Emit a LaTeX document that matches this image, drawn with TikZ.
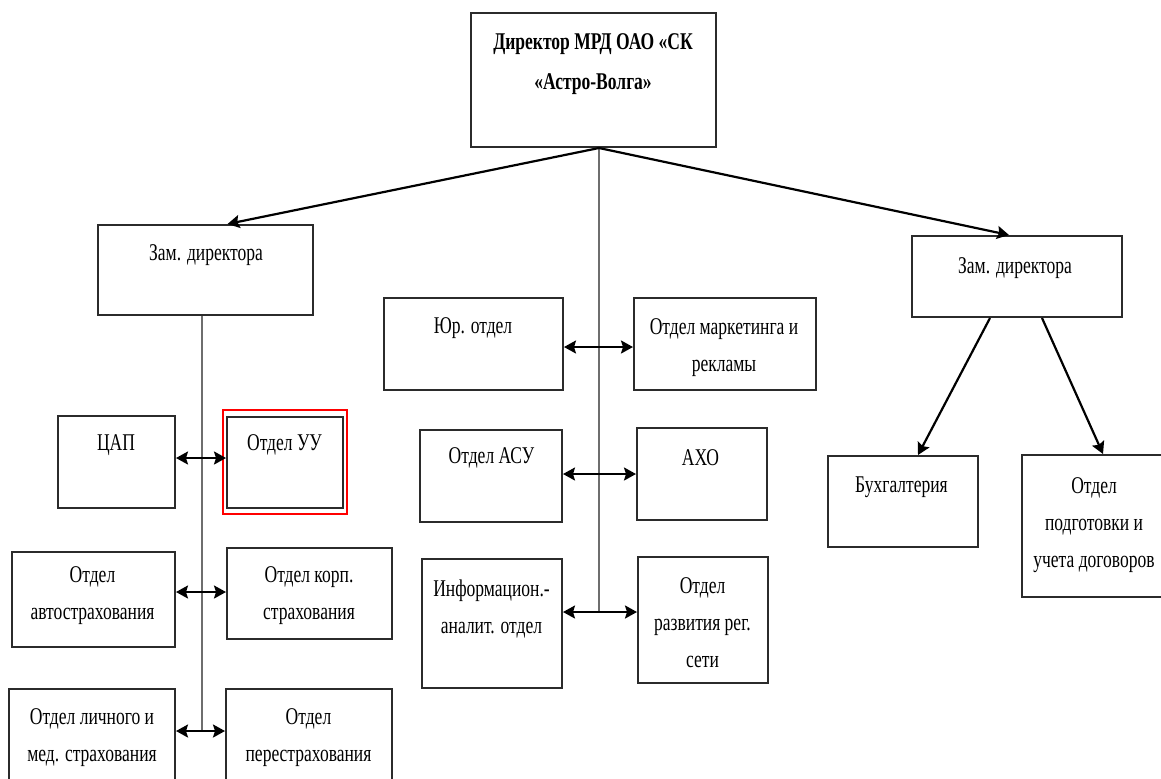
\documentclass[tikz,border=0pt]{standalone}
\usepackage{fontspec}
\setmainfont{Liberation Serif}[FakeStretch=0.73]
\usetikzlibrary{arrows.meta}
\definecolor{boxc}{HTML}{2B2B2B}
\definecolor{trunkc}{HTML}{6E6E6E}

\begin{document}
\begin{tikzpicture}[x=0.5pt, y=-0.5pt, >={Stealth[length=6pt, width=6.5pt, inset=1pt]},
    dept/.style={draw=boxc, line width=1pt, inner sep=0pt},
    txt/.style={inner sep=0pt, align=center, font=\fontsize{12}{18.5}\selectfont},
    link/.style={draw=black, line width=1.1pt},
    trunk/.style={draw=trunkc, line width=1pt}]
  \useasboundingbox (0,0) rectangle (1161,778);

  % boxes
  \node[dept, minimum width=122.5pt, minimum height=67pt] (dir) at (593.5,80) {};
  \node[dept, minimum width=107.5pt, minimum height=45pt] (lz) at (205.5,270) {};
  \node[dept, minimum width=105pt, minimum height=40.5pt] (rz) at (1017,276.5) {};
  \node[dept, minimum width=58.5pt, minimum height=46pt] (cap) at (116.5,462) {};
  \node[dept, minimum width=58pt, minimum height=45.5pt] (uu) at (285,462.5) {};
  \node[draw=red, line width=0.6pt, inner sep=0pt, minimum width=62pt, minimum height=52pt] (uusel) at (285,462) {};
  \node[dept, minimum width=81.5pt, minimum height=47.5pt] (avto) at (93.5,599.5) {};
  \node[dept, minimum width=82.5pt, minimum height=45.5pt] (korp) at (309.5,593.5) {};
  \node[dept, minimum width=83pt, minimum height=70.5pt] (lich) at (92,759.5) {};
  \node[dept, minimum width=83pt, minimum height=70.5pt] (pere) at (309,759.5) {};
  \node[dept, minimum width=89.5pt, minimum height=46pt] (yur) at (473.5,344) {};
  \node[dept, minimum width=91pt, minimum height=46pt] (mark) at (725,344) {};
  \node[dept, minimum width=71pt, minimum height=46pt] (asu) at (491,476) {};
  \node[dept, minimum width=65pt, minimum height=46pt] (axo) at (702,474) {};
  \node[dept, minimum width=70pt, minimum height=64.5pt] (inf) at (492,623.5) {};
  \node[dept, minimum width=65pt, minimum height=63pt] (raz) at (703,620) {};
  \node[dept, minimum width=75pt, minimum height=45.5pt] (bux) at (903,501.5) {};
  \node[dept, minimum width=72pt, minimum height=71pt] (dog) at (1094,526) {};

  % texts
  \node[txt, font=\fontsize{12}{20}\selectfont\bfseries] (dir-t) at (593,64) {Директор МРД ОАО «СК\\«Астро-Волга»};
  \node[txt] (lz-t) at (206,255) {Зам. директора};
  \node[txt] (rz-t) at (1015,268) {Зам. директора};
  \node[txt] (cap-t) at (116,445) {ЦАП};
  \node[txt] (uu-t) at (284.5,445) {Отдел УУ};
  \node[txt] (avto-t) at (92.5,595.5) {Отдел\\автострахования};
  \node[txt] (korp-t) at (309,596) {Отдел корп.\\страхования};
  \node[txt] (lich-t) at (92,738) {Отдел личного и\\мед. страхования};
  \node[txt] (pere-t) at (308.5,738) {Отдел\\перестрахования};
  \node[txt] (yur-t) at (473,328) {Юр. отдел};
  \node[txt] (mark-t) at (724,347.5) {Отдел маркетинга и\\рекламы};
  \node[txt] (asu-t) at (491.5,458) {Отдел АСУ};
  \node[txt] (axo-t) at (700.5,458) {АХО};
  \node[txt] (inf-t) at (491.5,609) {Информацион.-\\аналит. отдел};
  \node[txt] (raz-t) at (702.5,623) {Отдел\\развития рег.\\сети};
  \node[txt] (bux-t) at (901.5,487) {Бухгалтерия};
  \node[txt] (dog-t) at (1094,525.5) {Отдел\\подготовки и\\учета договоров};

  % trunk points
  \coordinate (l1) at (201.5,458);
  \coordinate (l2) at (201.5,592);
  \coordinate (l3) at (201.5,731);
  \coordinate (m1) at (599,347);
  \coordinate (m2) at (599,474);
  \coordinate (m3) at (599,612);

  \draw[trunk] (dir.south -| m3) -- (m3);
  \draw[trunk] (lz.south -| l3) -- (l3);

  \draw[link, ->] (dir.south -| m3) -- ([xshift=11pt]lz.north);
  \draw[link, ->] (dir.south -| m3) -- ([xshift=-4pt]rz.north);
  \draw[link, ->] ([xshift=-13.5pt]rz.south) -- ([xshift=7.5pt]bux.north);
  \draw[link, ->] ([xshift=12.5pt]rz.south) -- ([xshift=4.5pt]dog.north);

  \draw[link, <->] (cap.east |- l1) -- (uu.west |- l1);
  \draw[link, <->] (avto.east |- l2) -- (korp.west |- l2);
  \draw[link, <->] (lich.east |- l3) -- (pere.west |- l3);
  \draw[link, <->] (yur.east |- m1) -- (mark.west |- m1);
  \draw[link, <->] (asu.east |- m2) -- (axo.west |- m2);
  \draw[link, <->] (inf.east |- m3) -- (raz.west |- m3);
\end{tikzpicture}
\end{document}
